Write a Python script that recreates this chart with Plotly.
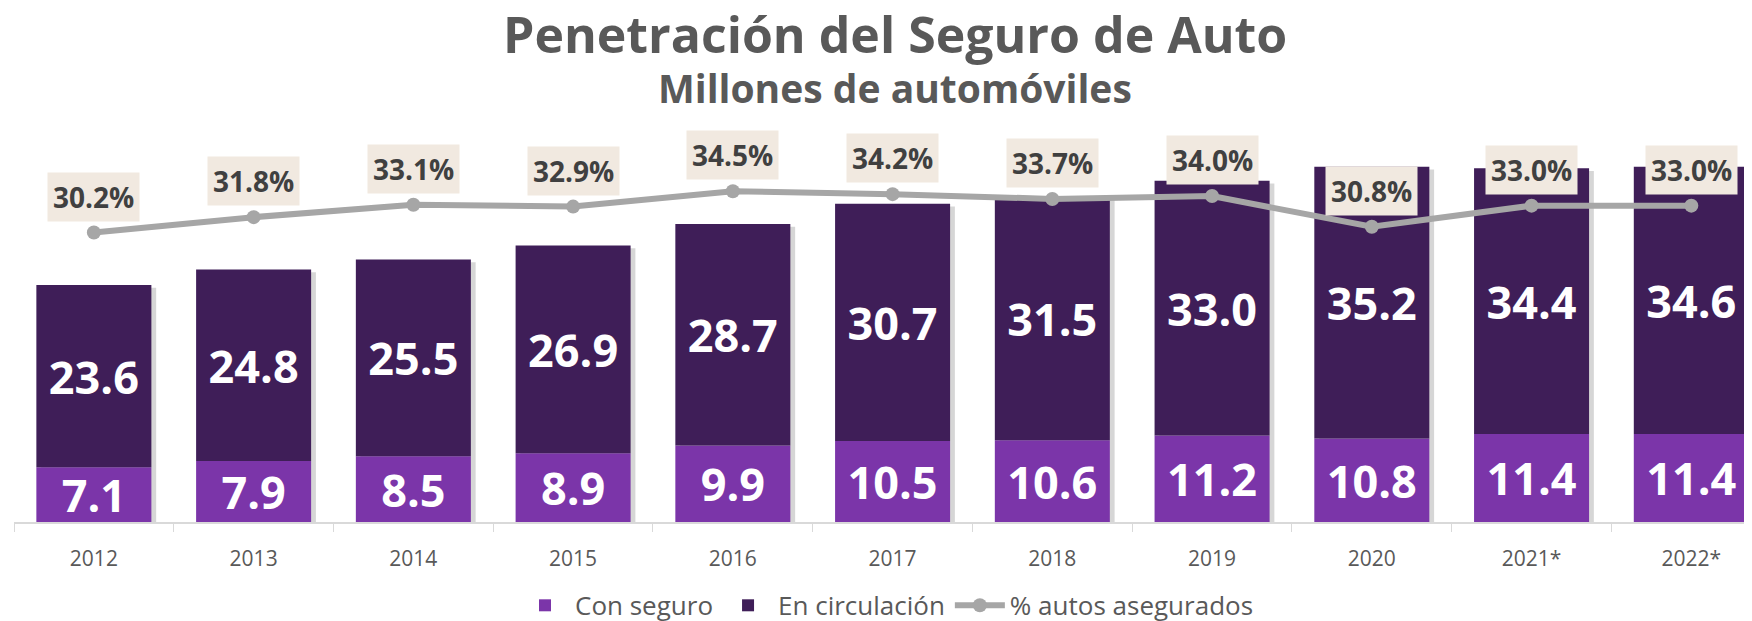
import plotly.graph_objects as go

years = ["2012", "2013", "2014", "2015", "2016", "2017", "2018", "2019", "2020", "2021*", "2022*"]
con_seguro = [7.1, 7.9, 8.5, 8.9, 9.9, 10.5, 10.6, 11.2, 10.8, 11.4, 11.4]
en_circulacion = [23.6, 24.8, 25.5, 26.9, 28.7, 30.7, 31.5, 33.0, 35.2, 34.4, 34.6]
pct_asegurados = [30.2, 31.8, 33.1, 32.9, 34.5, 34.2, 33.7, 34.0, 30.8, 33.0, 33.0]

totals = [a + b for a, b in zip(con_seguro, en_circulacion)]

PURPLE = "#7B35A9"
DARK = "#3F1E58"
GRAY = "#A6A6A6"
TXT = "#404040"
FONT = "Open Sans"

BW = 0.72
fig = go.Figure()

# soft drop shadow behind the stacked bars
fig.add_trace(go.Bar(
    x=years, y=totals, base=[-0.35] * len(years), width=BW, offset=-BW / 2 + 0.03,
    marker=dict(color="rgba(0,0,0,0.16)", line=dict(width=0)),
    showlegend=False, hoverinfo="skip",
))

fig.add_trace(go.Bar(
    x=years, y=con_seguro, name="Con seguro", width=BW, offset=-BW / 2,
    marker=dict(color=PURPLE, line=dict(width=0)),
    text=[f"<b>{v:.1f}</b>" for v in con_seguro], textposition="inside",
    insidetextanchor="middle", constraintext="none",
    textfont=dict(family=FONT, size=45, color="white"),
))
fig.add_trace(go.Bar(
    x=years, y=en_circulacion, base=con_seguro, name="En circulación", width=BW, offset=-BW / 2,
    marker=dict(color=DARK, line=dict(width=0)),
    text=[f"<b>{v:.1f}</b>" for v in en_circulacion], textposition="inside",
    insidetextanchor="middle", constraintext="none",
    textfont=dict(family=FONT, size=45, color="white"),
))
fig.add_trace(go.Scatter(
    x=years, y=pct_asegurados, name="% autos asegurados", yaxis="y2",
    mode="lines+markers", line=dict(color=GRAY, width=6),
    marker=dict(color=GRAY, size=14),
))

for i, p in enumerate(pct_asegurados):
    fig.add_annotation(
        x=i, y=p, xref="x", yref="y2", yshift=36,
        text=f"<b>{p:.1f}%</b>", showarrow=False,
        font=dict(family=FONT, size=28, color=TXT),
        bgcolor="#F1E9E0", borderpad=5,
    )

fig.add_annotation(
    x=0.5, y=1, xref="paper", yref="paper", xshift=8, yshift=71, yanchor="middle",
    text="<b>Penetración del Seguro de Auto</b>", showarrow=False,
    font=dict(family=FONT, size=50, color="#595959"), borderpad=0,
)
fig.add_annotation(
    x=0.5, y=1, xref="paper", yref="paper", xshift=8, yshift=18, yanchor="middle",
    text="<b>Millones de automóviles</b>", showarrow=False,
    font=dict(family=FONT, size=39, color="#595959"), borderpad=0,
)

fig.update_layout(
    width=1752, height=621,
    margin=dict(l=6, r=0, t=97, b=102),
    paper_bgcolor="white", plot_bgcolor="white",
    barmode="overlay", bargap=0.28,
    font=dict(family=FONT, color="#595959"),
    xaxis=dict(
        type="category", range=[-0.5, 10.43],
        showline=True, linecolor="#D9D9D9", linewidth=2,
        ticks="outside", tickson="boundaries", ticklen=8, tickcolor="#D9D9D9",
        ticklabelstandoff=17,
        tickfont=dict(family=FONT, size=21, color="#595959"),
        showgrid=False, zeroline=False,
    ),
    yaxis=dict(range=[0, 54.0], visible=False, showgrid=False, zeroline=False),
    yaxis2=dict(range=[0, 43.5], overlaying="y", side="right", visible=False,
                showgrid=False, zeroline=False),
    legend=dict(
        orientation="h", x=0.5, xanchor="center", y=-0.2, yanchor="middle",
        font=dict(family=FONT, size=26, color="#595959"),
        traceorder="normal", bgcolor="rgba(0,0,0,0)", itemwidth=50,
    ),
    showlegend=True,
)

fig.write_html("out.html")
